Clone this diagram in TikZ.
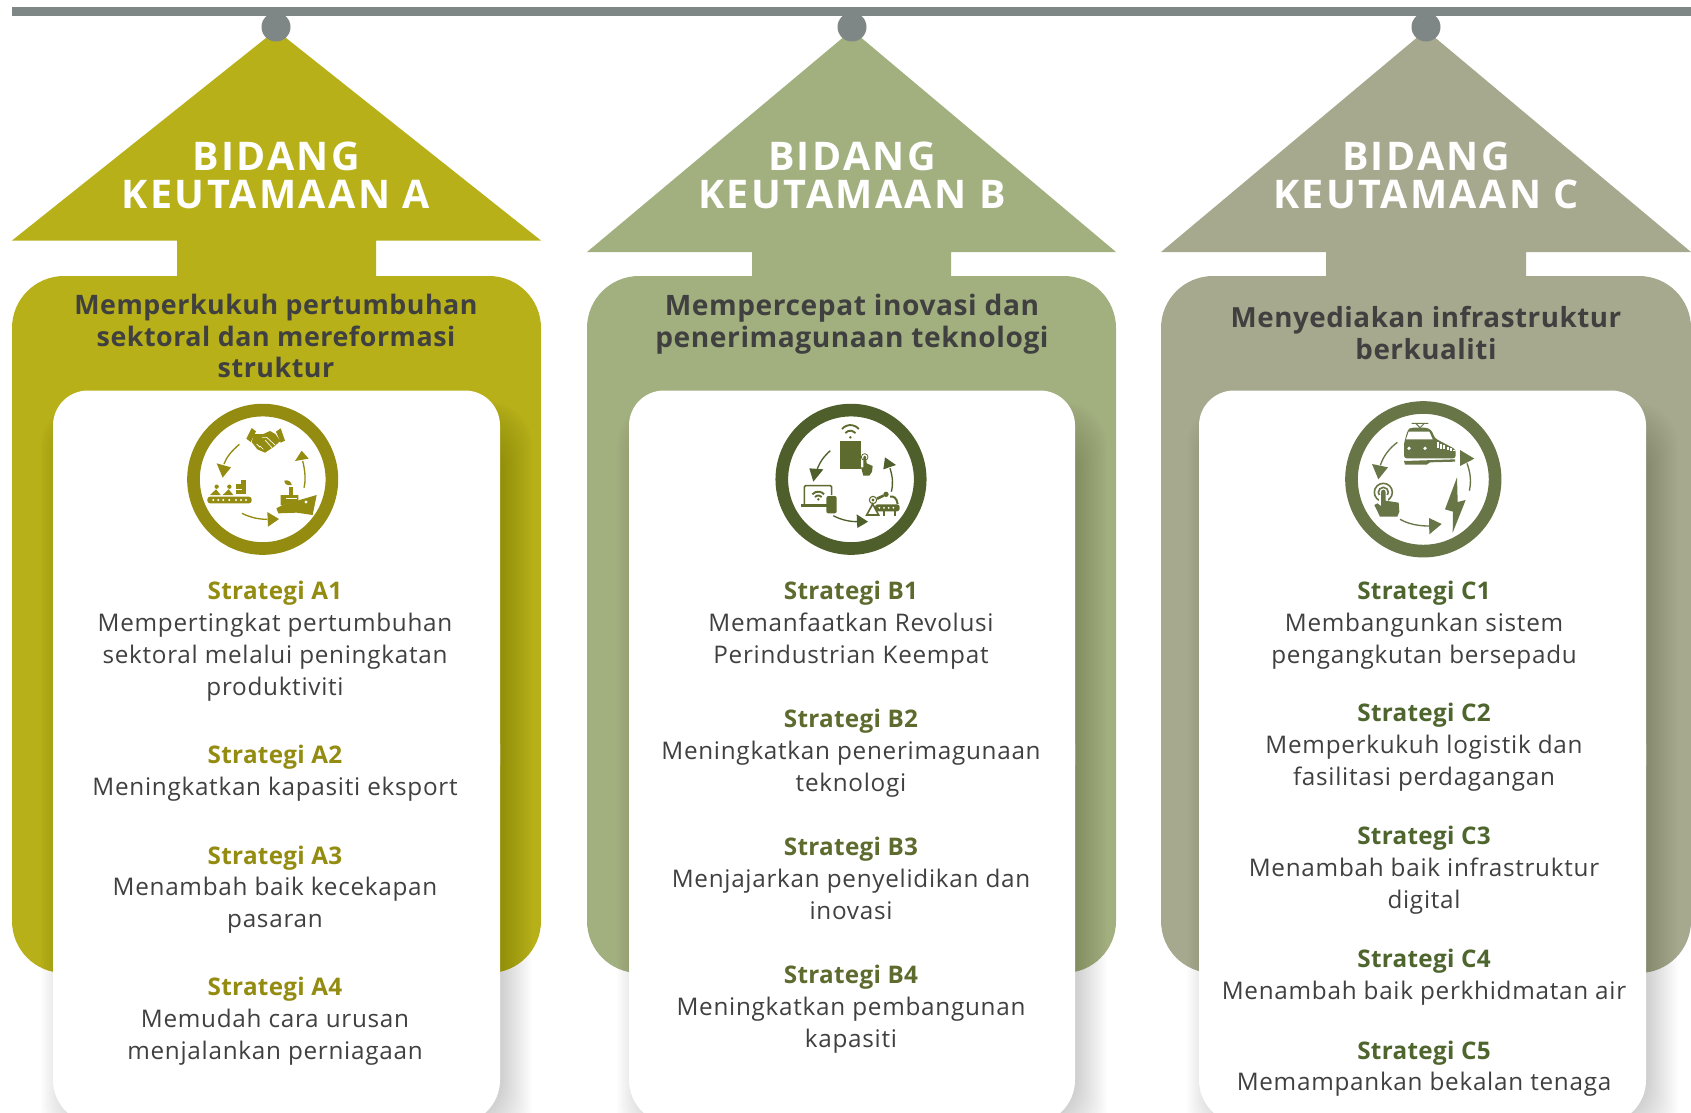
\documentclass[tikz,border=0pt]{standalone}
\usepackage{fontspec}
\setmainfont{Open Sans}
\newfontfamily\titlefont[LetterSpace=6,Ligatures=NoCommon]{Open Sans Bold}
\newfontfamily\subfont[LetterSpace=2,Ligatures=NoCommon]{Open Sans Bold}
\newfontfamily\headfont[LetterSpace=1.2,Ligatures=NoCommon]{Open Sans Bold}
\newfontfamily\bodyfont[LetterSpace=3,Ligatures=NoCommon]{Open Sans}
\definecolor{colA}{HTML}{B7B019}
\definecolor{colB}{HTML}{A2B07F}
\definecolor{colC}{HTML}{A6A98D}
\definecolor{barcol}{HTML}{7E8786}
\definecolor{ringA}{HTML}{938C10}
\definecolor{ringB}{HTML}{4E5F2B}
\definecolor{ringC}{HTML}{687647}
\definecolor{iconB}{HTML}{5E6B2E}
\definecolor{headB}{HTML}{5D6B2F}
\definecolor{headC}{HTML}{4E652E}
\definecolor{ink}{HTML}{404040}
\tikzset{
 titletext/.style={text=white,align=center,inner sep=0pt,font=\titlefont\fontsize{29.6}{28.4}\selectfont},
 subtext/.style={text=ink,align=center,inner sep=0pt,font=\subfont\fontsize{#1}{23.9}\selectfont},
 stratext/.style={text=ink,align=center,inner sep=0pt,anchor=north,font=\bodyfont\fontsize{18.2}{23.88}\selectfont},
}
\newcommand{\strat}[6]{% name x y color head body
 \node[stratext] (#1) at (#2,#3) {\strut{\headfont\color{#4}#5}\\#6};}
\newcommand{\arrowicon}[5]{% color, start, ctrl, end, triangle
 \draw[#1,line width=1pt] #2 .. controls #3 .. #4;
 \fill[#1] #5 -- cycle;}
\newcommand{\column}[7]{% color apex left right stemL stemR baseY
 \fill[#1] (#2,30) -- (#4,#7) -- (#6,#7) -- (#6,300) -- (#5,300) -- (#5,#7) -- (#3,#7) -- cycle;
 \fill[#1,rounded corners=39pt] (#3,276) rectangle (#4,973);}
\begin{document}
\begin{tikzpicture}[x=0.75pt,y=-0.75pt]
\useasboundingbox (0,0) rectangle (1691,1113);
\begin{scope}
\clip (0,0) rectangle (1691,1113);
\fill[barcol] (11.9,7) rectangle (1691,16.5);
\column{colA}{276}{12}{541}{177}{376}{240.5}
\column{colB}{852}{587}{1116}{752}{951}{252}
\column{colC}{1426}{1161}{1691}{1326}{1526}{252}
\fill[barcol] (276,27) circle[radius=14.5];
\fill[barcol] (852,27) circle[radius=14.5];
\fill[barcol] (1426,27) circle[radius=14.5];
% card shadows
\foreach \L/\R in {53/500,629/1075,1199/1646}{
 \foreach \d in {-22,-20,...,22}{
  \fill[black,opacity=0.013,rounded corners=33pt]
   ({\L+10-\d},{390+34-\d}) rectangle ({\R+10+\d},1130+\d);
 }
 \fill[white,rounded corners=26.25pt] (\L,390.5) rectangle (\R,800);
 \fill[white,rounded corners=33pt] (\L,700) rectangle (\R,1124);
}
\end{scope}
% titles
\node[titletext] (tA) at (276,175.5) {BIDANG\\KEUTAMAAN A};
\node[titletext] (tB) at (852,175.5) {BIDANG\\KEUTAMAAN B};
\node[titletext] (tC) at (1426,175.5) {BIDANG\\KEUTAMAAN C};
\node[subtext=20.1] (sA) at (276,336) {Memperkukuh pertumbuhan\\sektoral dan mereformasi\\struktur};
\node[subtext=21.1] (sB) at (852,324.5) {Mempercepat inovasi dan\\penerimagunaan teknologi};
\node[subtext=20.8] (sC) at (1426,333) {Menyediakan infrastruktur\\berkualiti};
% strategies
\strat{a1}{275}{577}{ringA}{Strategi A1}{Mempertingkat pertumbuhan\\sektoral melalui peningkatan\\produktiviti}
\strat{a2}{275}{741}{ringA}{Strategi A2}{Meningkatkan kapasiti eksport}
\strat{a3}{275}{841.5}{ringA}{Strategi A3}{Menambah baik kecekapan\\pasaran}
\strat{a4}{275}{973}{ringA}{Strategi A4}{Memudah cara urusan\\menjalankan perniagaan}
\strat{b1}{851}{577}{headB}{Strategi B1}{Memanfaatkan Revolusi\\Perindustrian Keempat}
\strat{b2}{851}{705}{headB}{Strategi B2}{Meningkatkan penerimagunaan\\teknologi}
\strat{b3}{851}{833}{headB}{Strategi B3}{Menjajarkan penyelidikan dan\\inovasi}
\strat{b4}{851}{961}{headB}{Strategi B4}{Meningkatkan pembangunan\\kapasiti}
\strat{c1}{1424}{577}{headC}{Strategi C1}{Membangunkan sistem\\pengangkutan bersepadu}
\strat{c2}{1424}{699}{headC}{Strategi C2}{Memperkukuh logistik dan\\fasilitasi perdagangan}
\strat{c3}{1424}{822}{headC}{Strategi C3}{Menambah baik infrastruktur\\digital}
\strat{c4}{1424}{945}{headC}{Strategi C4}{Menambah baik perkhidmatan air}
\strat{c5}{1424}{1036.5}{headC}{Strategi C5}{Memampankan bekalan tenaga}
% rings
\draw[ringA,line width=9.5pt] (262.7,479.3) circle[radius=69.2];
\draw[ringB,line width=9.5pt] (851,479.3) circle[radius=69.2];
\draw[ringC,line width=9.5pt] (1423.3,479.3) circle[radius=71.8];
% ---- icon A
\begin{scope}[shift={(150,380)},x=0.25pt,y=-0.25pt]
\arrowicon{ringA}{(268,193)}{(245,213) and (230,230)}{(222,252)}{(200,250) -- (243,262) -- (218,293)}
\arrowicon{ringA}{(276,400)}{(300,412) and (325,418)}{(352,418)}{(352,396) -- (387,417) -- (354,440)}
\arrowicon{ringA}{(462,323)}{(468,300) and (465,270)}{(458,243)}{(435,243) -- (455,212) -- (476,236)}
% handshake
\fill[ringA] (289,176) -- (305,144) -- (318,154) -- (302,186) -- cycle;
\fill[ringA] (378,155) -- (392,145) -- (405,182) -- (392,188) -- cycle;
\fill[ringA] (312,162) -- (340,162) -- (360,153) -- (376,162) -- (391,183) -- (372,200) -- (345,218) -- (322,208) -- (305,186) -- cycle;
\draw[white,line width=.5pt] (336,172) -- (350,172) -- (376,196) (345,180) -- (366,203) (330,198) -- (340,208) (320,192) -- (330,202);
% conveyor
\fill[ringA,rounded corners=2pt] (172,350) rectangle (305,370);
\foreach \x in {190,205,220,238,258,273,288}{\fill[white] (\x,360) circle[radius=3.4];}
\fill[ringA] (200,320) circle[radius=6.5];
\fill[ringA] (238,320) circle[radius=6.5];
\fill[ringA] (180,345) -- (198,328) -- (212,345) -- cycle;
\fill[ringA] (218,345) -- (236,328) -- (250,345) -- cycle;
\fill[ringA] (258,312) rectangle (288,342);
\fill[ringA] (272,300) rectangle (288,312);
\draw[white,line width=.5pt] (258,328) -- (275,328);
% ship
\fill[ringA] (379,385) -- (398,375) -- (500,345) -- (488,405) -- (440,398) -- (385,400) -- cycle;
\fill[ringA] (392,345) -- (445,345) -- (445,362) -- (400,375) -- (392,375) -- cycle;
\fill[ringA] (418,322) rectangle (430,345);
\fill[ringA] (403,302) .. controls (412,298) and (425,305) .. (425,315) .. controls (412,318) and (403,312) .. (403,302) -- cycle;
\fill[white] (468,366) circle[radius=5];
\draw[white,line width=.5pt] (408,356) -- (440,356);
\end{scope}
% ---- icon B
\begin{scope}[shift={(750,380)},x=0.25pt,y=-0.25pt]
\arrowicon{ringB}{(241,212)}{(222,228) and (208,248)}{(200,272)}{(178,265) -- (220,268) -- (190,305)}
\arrowicon{ringB}{(250,407)}{(270,418) and (295,425)}{(322,425)}{(320,403) -- (354,425) -- (322,444)}
\arrowicon{ringB}{(424,335)}{(430,312) and (428,290)}{(420,265)}{(400,268) -- (405,232) -- (438,255)}
\fill[iconB] (270,183) rectangle (333,267);
\draw[iconB,line width=1.4pt] (286,159) arc[start angle=-140,end angle=-40,radius=20];
\draw[iconB,line width=1.4pt] (276,147) arc[start angle=-140,end angle=-40,radius=33];
\fill[iconB] (301,172) circle[radius=4];
\draw[iconB,line width=.6pt] (344,231) circle[radius=10];
\fill[iconB] (344,231) circle[radius=4];
\fill[iconB] (340,231) -- (348,231) -- (350,250) -- (368,258) -- (366,275) -- (358,287) -- (340,287) -- (333,262) -- (340,262) -- cycle;
\draw[iconB,line width=1.2pt,rounded corners=1pt] (163,372) -- (163,317) -- (245,317) -- (245,345);
\fill[iconB] (152,372) rectangle (232,382);
\draw[iconB,line width=1.4pt] (187,343) arc[start angle=-140,end angle=-40,radius=23];
\draw[iconB,line width=1.4pt] (195,351) arc[start angle=-140,end angle=-40,radius=13];
\fill[iconB] (205,358) circle[radius=4];
\fill[iconB,rounded corners=1.5pt] (229,348) rectangle (260,400);
\fill[iconB,rounded corners=2pt] (375,373) rectangle (449,394);
\foreach \x in {388,402,416,430}{\fill[white] (\x,383.5) circle[radius=3];}
\fill[iconB] (400,394) rectangle (405,407);
\fill[iconB] (432,394) rectangle (437,407);
\draw[iconB,line width=1.2pt] (350,405) -- (368,372) -- (386,405) -- cycle;
\draw[iconB,line width=.8pt] (369,360) circle[radius=11];
\fill[iconB] (369,360) circle[radius=5];
\fill[iconB] (380,352) -- (400,343) -- (403,350) -- (383,360) -- cycle;
\fill[iconB] (408,343) circle[radius=8];
\draw[iconB,line width=1.5pt] (420,350) .. controls (430,348) and (440,352) .. (443,372);
\end{scope}
% ---- icon C
\begin{scope}[shift={(1320,380)},x=0.25pt,y=-0.25pt]
\arrowicon{ringC}{(232,187)}{(208,205) and (190,228)}{(181,256)}{(156,252) -- (204,262) -- (175,298)}
\arrowicon{ringC}{(240,418)}{(265,432) and (295,438)}{(327,438)}{(327,414) -- (365,432) -- (328,463)}
\arrowicon{ringC}{(448,332)}{(455,302) and (450,275)}{(441,250)}{(420,258) -- (420,210) -- (463,236)}
% train
\draw[ringC,line width=.7pt] (275,130) -- (325,130) (288,131) -- (300,143) -- (312,131);
\fill[ringC,rounded corners=2pt] (252,235) -- (252,190) -- (263,150) -- (272,143) -- (320,143) -- (334,150) -- (345,175) -- (407,208) -- (407,235) -- cycle;
\fill[white] (266,155) -- (328,155) -- (338,178) -- (258,178) -- cycle;
\foreach \x in {350,360,370,380,390,400}{\fill[white] (\x,{185+(\x-345)*.45}) rectangle (\x+6,{203+(\x-345)*.2});}
\fill[white] (267,205) circle[radius=5.5];
\fill[white] (315,205) circle[radius=5.5];
\fill[ringC] (252,243) -- (405,238) -- (405,245) -- (330,247) -- (320,254) -- (255,254) -- cycle;
% bolt
\fill[ringC] (411,292) -- (375,388) -- (399,395) -- (398,458) -- (437,360) -- (413,366) -- cycle;
% touch hand
\draw[ringC,line width=1.2pt] (190,337) circle[radius=27];
\draw[ringC,line width=1.2pt] (190,337) circle[radius=15];
\fill[white] (178,345) rectangle (205,372);
\fill[ringC] (183,337) .. controls (183,326) and (197,326) .. (197,337) -- (197,362) -- (236,368) -- (238,395) -- (232,410) -- (180,410) -- (163,375) -- (172,370) -- (183,378) -- cycle;
\end{scope}
\end{tikzpicture}
\end{document}
